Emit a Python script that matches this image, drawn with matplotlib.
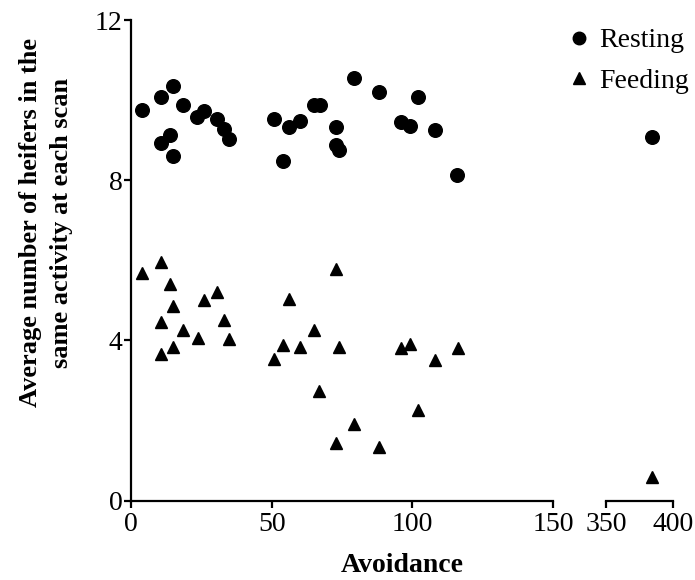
import matplotlib
matplotlib.use("Agg")
import matplotlib.pyplot as plt
from matplotlib.lines import Line2D
import numpy as np

plt.rcParams['font.family'] = ['Liberation Serif', 'DejaVu Serif']

# Resting (circles)
rest_x = [3.8, 10.7, 14.8, 18.6, 23.6, 26.0, 10.7, 13.9, 14.8, 30.7, 33.1, 35.0,
          50.9, 54.0, 56.0, 59.9, 64.9, 67.3, 73.0, 73.0, 74.0, 79.1, 88.0,
          96.1, 99.3, 102.0, 108.2, 115.9, 384.1]
rest_y = [9.75, 10.08, 10.36, 9.88, 9.58, 9.72, 8.93, 9.12, 8.61, 9.52, 9.27, 9.04,
          9.52, 8.49, 9.32, 9.48, 9.88, 9.88, 9.32, 8.89, 8.75, 10.54, 10.21,
          9.46, 9.36, 10.08, 9.25, 8.14, 9.07]

# Feeding (triangles)
feed_x = [3.8, 10.7, 13.9, 14.8, 10.7, 18.6, 23.7, 26.0, 30.7, 33.1, 35.0, 10.7, 14.8,
          50.9, 54.0, 56.0, 59.9, 64.9, 67.0, 73.0, 73.8, 73.0, 79.1, 88.0,
          96.1, 99.3, 102.0, 108.2, 116.3, 384.3]
feed_y = [5.68, 5.95, 5.40, 4.85, 4.46, 4.25, 4.07, 5.02, 5.21, 4.52, 4.03, 3.65, 3.83,
          3.54, 3.88, 5.04, 3.83, 4.25, 2.75, 5.79, 3.83, 1.44, 1.92, 1.33,
          3.82, 3.92, 2.27, 3.52, 3.82, 0.60]

yticks = [0, 4, 8, 12]
left_xticks = [0, 50, 100, 150]
right_xticks = [350, 400]

W, H = 695, 580
fig = plt.figure(figsize=(W / 100, H / 100), dpi=100)
bottom = (H - 500.7) / H
height = 480.7 / H
ax1 = fig.add_axes([131 / W, bottom, 422 / W, height])
ax2 = fig.add_axes([606 / W, bottom, 67 / W, height])

rest_x = np.array(rest_x); rest_y = np.array(rest_y)
feed_x = np.array(feed_x); feed_y = np.array(feed_y)

# left panel: 0-150, right panel: 350-400 (broken axis)
panels = [(ax1, rest_x <= 150, feed_x <= 150), (ax2, rest_x >= 350, feed_x >= 350)]
for ax, rm, fm in panels:
    ax.plot(rest_x[rm], rest_y[rm], 'o', color='black', ms=9.8, clip_on=False, zorder=3)
    ax.plot(feed_x[fm], feed_y[fm], '^', color='black', ms=9, clip_on=False, zorder=3)
    ax.set_ylim(0, 12)
    for s in ('top', 'right'):
        ax.spines[s].set_visible(False)
    for s in ('left', 'bottom'):
        ax.spines[s].set_linewidth(1.6)
    ax.tick_params(width=1.6, length=5, labelsize=20, pad=3)

ax1.set_xlim(0, 150)
ax1.set_xticks(left_xticks)
ax1.set_yticks(yticks)
ax1.tick_params(axis='y', pad=1)

ax2.set_xlim(350, 400)
ax2.set_xticks(right_xticks)
ax2.spines['left'].set_visible(False)
ax2.set_yticks([])

handles = [Line2D([], [], marker='o', ls='none', color='black', ms=9),
           Line2D([], [], marker='^', ls='none', color='black', ms=9)]
fig.legend(handles, ['Resting', 'Feeding'], loc='upper left',
           bbox_to_anchor=(571 / W, 1 - 28 / H), frameon=False, fontsize=20,
           handlelength=0.6, handletextpad=0.4, labelspacing=0.55, borderaxespad=0,
           borderpad=0)

fig.text(402 / W, 1 - 566 / H, 'Avoidance', ha='center', va='center',
         fontsize=20, fontweight='bold')
fig.text(46 / W, 1 - 223 / H, 'Average number of heifers in the\nsame activity at each scan',
         ha='center', va='center', rotation=90, fontsize=19, fontweight='bold',
         linespacing=1.4, multialignment='center')

fig.savefig('out.png', dpi=100)
